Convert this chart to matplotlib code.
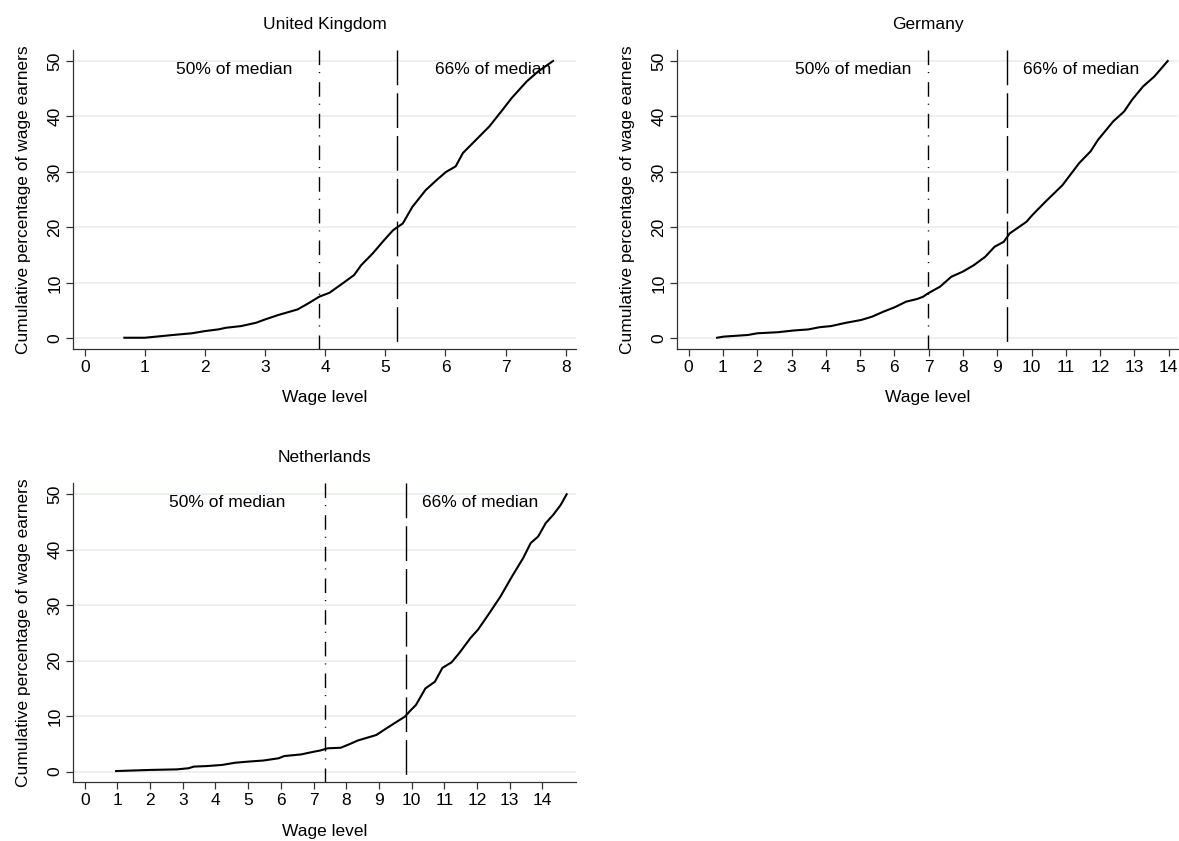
import matplotlib
matplotlib.use("Agg")
import matplotlib.pyplot as plt

plt.rcParams["font.family"] = ["Liberation Sans", "DejaVu Sans"]

# cumulative distribution of wages
uk_wage = [0.66, 1.0, 1.47, 1.78, 2.0, 2.22, 2.35, 2.6, 2.85, 3.0, 3.22, 3.54, 3.72,
           3.9, 4.07, 4.29, 4.48, 4.6, 4.79, 4.98, 5.13, 5.29, 5.45, 5.67, 5.85,
           6.01, 6.17, 6.29, 6.51, 6.73, 6.95, 7.1, 7.35, 7.54, 7.79]
uk_cum = [0.1, 0.1, 0.6, 0.9, 1.3, 1.6, 1.9, 2.2, 2.8, 3.4, 4.2, 5.2, 6.3,
          7.5, 8.2, 9.9, 11.4, 13.2, 15.3, 17.7, 19.5, 20.7, 23.7, 26.7, 28.5,
          30.0, 31.0, 33.4, 35.8, 38.2, 41.2, 43.3, 46.3, 48.1, 50.0]

de_wage = [0.83, 1.02, 1.73, 2.0, 2.61, 3.05, 3.49, 3.82, 4.15, 4.59, 5.03, 5.35,
           5.68, 6.01, 6.34, 6.67, 6.84, 6.98, 7.33, 7.66, 7.99, 8.32, 8.65, 8.92,
           9.19, 9.36, 9.85, 10.02, 10.4, 10.9, 11.12, 11.39, 11.72, 11.94, 12.38,
           12.7, 12.93, 13.25, 13.58, 13.97]
de_cum = [0.1, 0.3, 0.6, 0.9, 1.1, 1.4, 1.6, 2.0, 2.2, 2.8, 3.3, 3.9,
          4.8, 5.6, 6.6, 7.1, 7.5, 8.1, 9.3, 11.1, 12.0, 13.2, 14.7, 16.5,
          17.4, 18.9, 21.0, 22.2, 24.6, 27.6, 29.4, 31.6, 33.7, 35.8, 39.1,
          40.9, 43.0, 45.4, 47.2, 50.0]

nl_wage = [0.96, 2.01, 2.82, 3.17, 3.34, 3.74, 4.2, 4.6, 5.0, 5.47, 5.93, 6.1,
           6.62, 7.02, 7.2, 7.43, 7.83, 8.12, 8.35, 8.92, 9.15, 9.44, 9.79, 9.96,
           10.13, 10.42, 10.71, 10.94, 11.22, 11.46, 11.8, 12.03, 12.38, 12.72,
           13.07, 13.41, 13.64, 13.87, 14.1, 14.33, 14.56, 14.74]
nl_cum = [0.1, 0.3, 0.4, 0.6, 0.9, 1.0, 1.2, 1.6, 1.8, 2.0, 2.4, 2.8,
          3.1, 3.6, 3.8, 4.2, 4.3, 5.0, 5.6, 6.6, 7.5, 8.6, 9.9, 11.0,
          12.0, 15.0, 16.2, 18.7, 19.7, 21.4, 24.1, 25.6, 28.6, 31.6,
          35.2, 38.5, 41.2, 42.4, 44.8, 46.3, 48.1, 50.0]

# poverty thresholds: 50% and 66% of the median wage
uk_lines = (3.9, 5.2)
de_lines = (6.97, 9.28)
nl_lines = (7.35, 9.82)

# where the threshold labels sit (x positions)
uk_text = (2.48, 6.79)
de_text = (4.81, 11.44)
nl_text = (4.37, 12.09)

grid_col = "#e6eef2"
W, H = 1179, 841
FS = 12.5


def panel(rect, title, wage, cum, lines, text_x, xmax, xlim):
    ax = fig.add_axes(rect)
    for y in range(0, 51, 10):
        ax.axhline(y, color=grid_col, lw=1.2, zorder=0)
    ax.plot(wage, cum, color="black", lw=1.5, zorder=3)
    # drawn top-down so the dash pattern starts at the top like the original
    ax.axvline(lines[0], 1, 0, color="black", lw=1.0, dashes=(10.5, 5, 0.8, 6.5), zorder=2)
    ax.axvline(lines[1], 1, 0, color="black", lw=1.0, dashes=(25, 5.8), zorder=2)
    ax.text(text_x[0], 48.5, "50% of median", ha="center", va="center", fontsize=FS)
    ax.text(text_x[1], 48.5, "66% of median", ha="center", va="center", fontsize=FS)

    ax.set_xlim(*xlim)
    ax.set_ylim(-1.93, 51.98)
    ax.set_xticks(range(0, xmax + 1))
    ax.set_yticks(range(0, 51, 10))
    ax.tick_params(length=5, width=0.9, labelsize=FS, color="#333333", pad=3)
    for lab in ax.get_yticklabels():
        lab.set_rotation(90)
        lab.set_va("center")
    for side in ("top", "right"):
        ax.spines[side].set_visible(False)
    for side in ("left", "bottom"):
        ax.spines[side].set_linewidth(0.9)
        ax.spines[side].set_color("#333333")
    ax.set_title(title, fontsize=FS, pad=15)
    ax.set_xlabel("Wage level", fontsize=FS, labelpad=11)
    ax.set_ylabel("Cumulative percentage of wage earners", fontsize=FS, labelpad=12)
    return ax


fig = plt.figure(figsize=(W / 100, H / 100), dpi=100)

panel([73.4 / W, 1 - 349 / H, 502.4 / W, 299 / H], "United Kingdom",
      uk_wage, uk_cum, uk_lines, uk_text, 8, (-0.188, 8.168))
panel([677.3 / W, 1 - 349 / H, 500.7 / W, 299 / H], "Germany",
      de_wage, de_cum, de_lines, de_text, 14, (-0.33, 14.27))
panel([73.4 / W, 1 - 782.3 / H, 502.4 / W, 299 / H], "Netherlands",
      nl_wage, nl_cum, nl_lines, nl_text, 14, (-0.346, 15.02))

fig.savefig("out.png", dpi=100)
